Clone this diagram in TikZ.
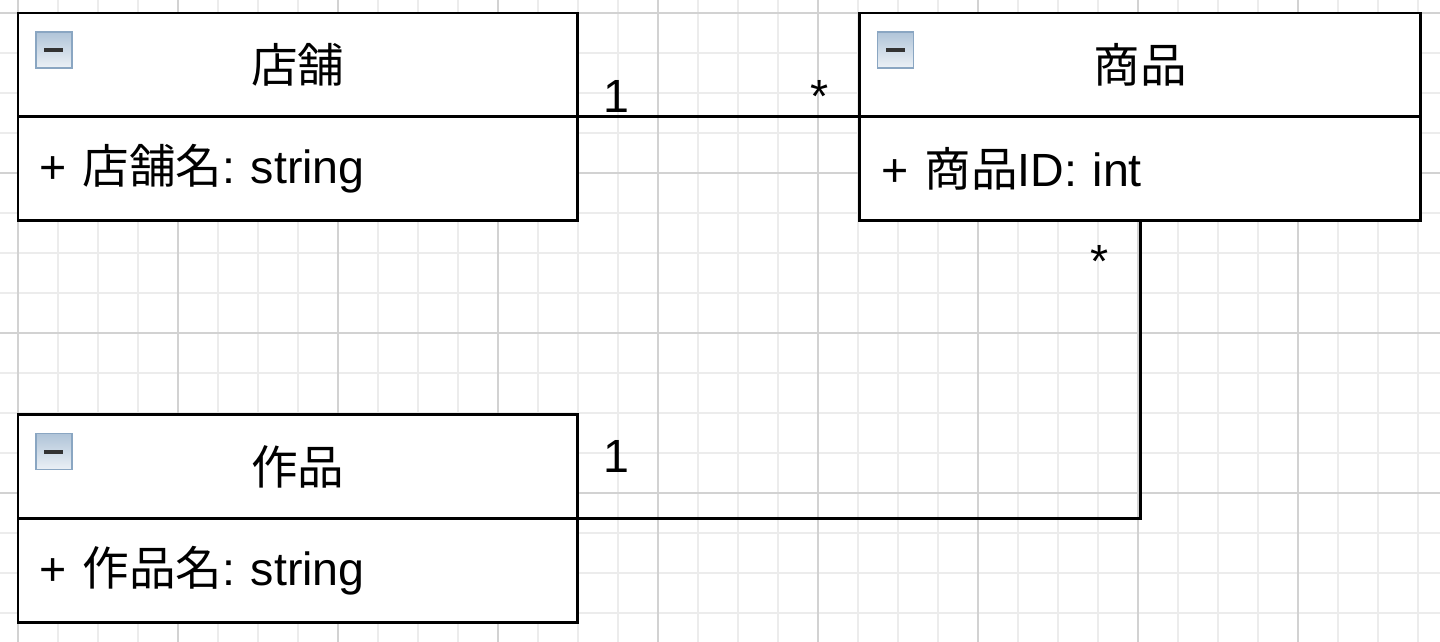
\documentclass[tikz,border=0pt]{standalone}
\usepackage{fontspec}
\setmainfont{Liberation Sans}
\newfontfamily\jpfont{Noto Sans CJK JP}
\usetikzlibrary{positioning,calc}
\frenchspacing
\definecolor{GridMinor}{RGB}{236,236,236}
\definecolor{GridMajor}{RGB}{210,210,210}
\definecolor{IconTop}{RGB}{176,196,216}
\definecolor{IconBottom}{RGB}{236,241,246}
\definecolor{IconEdge}{RGB}{138,166,194}
\newcommand{\umlfont}{\fontsize{26.5}{30}\selectfont}
\tikzset{
  minorline/.style={draw=GridMinor,line width=0.85pt},
  majorline/.style={draw=GridMajor,line width=0.85pt},
  classhead/.style={draw=black,fill=white,line width=1.7pt,minimum width=11.2cm,minimum height=2.08cm,inner sep=0pt,outer sep=0pt,font=\umlfont},
  classattr/.style={classhead,text width=10.32cm,inner xsep=0.44cm,align=left},
  iconbox/.style={draw=IconEdge,line width=0.6pt,top color=IconTop,bottom color=IconBottom,minimum size=0.72cm,inner sep=0pt,outer sep=0pt,
    path picture={\fill[black!80] ($(path picture bounding box.center)+(-0.2cm,0.045cm)$) rectangle ($(path picture bounding box.center)+(0.19cm,-0.045cm)$);}},
  assoc/.style={draw=black,line width=1.7pt},
  mult/.style={font=\umlfont,inner sep=0pt}
}

\begin{document}
\begin{tikzpicture}[x=0.02cm,y=-0.02cm]
\useasboundingbox (0,0) rectangle (1440,642);
\fill[white] (0,0) rectangle (1440,642);
% grid
\foreach \gx in {18,58,...,1418} \draw[minorline] (\gx,0) -- (\gx,642);
\foreach \gy in {13,53,...,633} \draw[minorline] (0,\gy) -- (1440,\gy);
\foreach \gx in {18,178,...,1418} \draw[majorline] (\gx,0) -- (\gx,642);
\foreach \gy in {13,173,...,633} \draw[majorline] (0,\gy) -- (1440,\gy);

% classes
\node[classhead, anchor=north west] (tenpo) at (18,13) {{\jpfont 店舗}};
\node[classattr, below=0cm of tenpo] (tenpoattr) {+ {\jpfont 店舗名}: string};
\node[classhead, right=5.64cm of tenpo, minimum width=11.22cm] (shohin) {{\jpfont 商品}};
\node[classattr, below=0cm of shohin, minimum width=11.22cm, text width=10.34cm] (shohinattr) {+ {\jpfont 商品}ID: int};
\node[classhead, below=3.88cm of tenpoattr] (sakuhin) {{\jpfont 作品}};
\node[classattr, below=0cm of sakuhin] (sakuhinattr) {+ {\jpfont 作品名}: string};

\node[iconbox, below right=0.38cm and 0.36cm of tenpo.north west] (tenpoicon) {};
\node[iconbox, below right=0.38cm and 0.36cm of shohin.north west] (shohinicon) {};
\node[iconbox, below right=0.38cm and 0.36cm of sakuhin.north west] (sakuhinicon) {};

% associations
\draw[assoc] (tenpo.south east) -- (shohin.south west);
\draw[assoc] (sakuhin.south east) -| (shohinattr.south);

\node[mult, above right=0.08cm and 0.5cm of tenpo.south east] (tenpomult) {1};
\node[mult, above left=0.08cm and 0.62cm of shohin.south west] (shohinmulta) {*};
\node[mult, below left=0.48cm and 0.62cm of shohinattr.south] (shohinmultb) {*};
\node[mult, above right=0.92cm and 0.5cm of sakuhin.south east] (sakuhinmult) {1};
\end{tikzpicture}
\end{document}
